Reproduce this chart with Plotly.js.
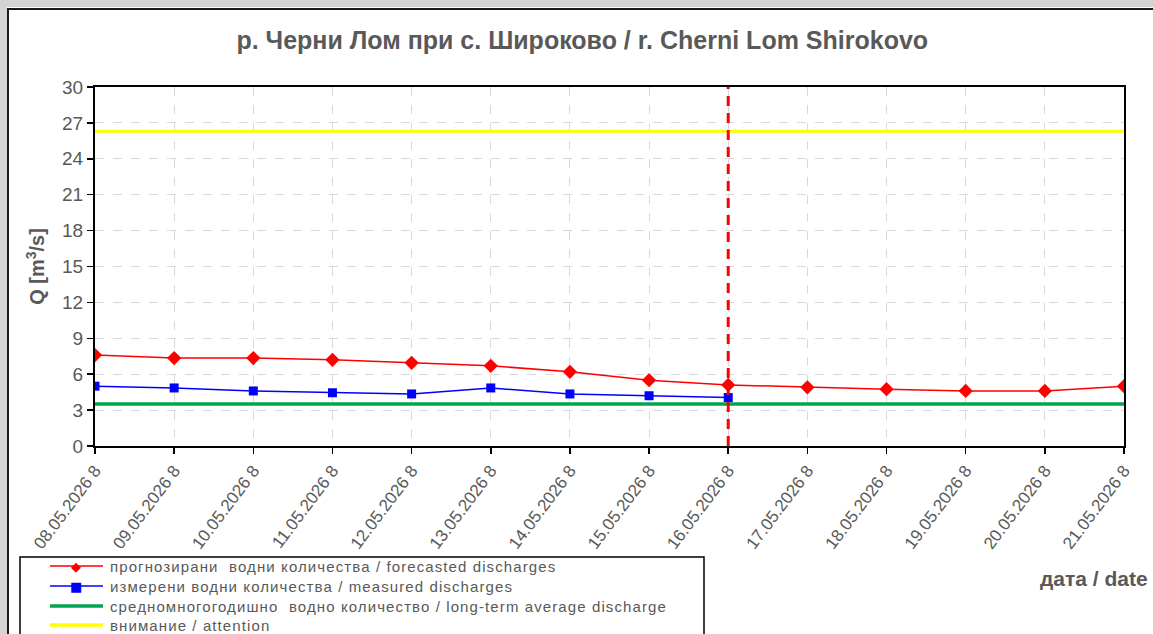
<!DOCTYPE html>
<html>
<head>
<meta charset="utf-8">
<script src="https://cdn.plot.ly/plotly-3.0.1.min.js"></script>
<style>html,body{margin:0;padding:0;background:#fff;overflow:hidden;}#chart{width:1153px;height:634px;}</style>
</head>
<body>
<div id="chart"></div>
<script>
const dates = ['08.05.2026 8','09.05.2026 8','10.05.2026 8','11.05.2026 8','12.05.2026 8','13.05.2026 8','14.05.2026 8','15.05.2026 8','16.05.2026 8','17.05.2026 8','18.05.2026 8','19.05.2026 8','20.05.2026 8','21.05.2026 8'];
const forecasted = [7.6, 7.35, 7.35, 7.2, 6.95, 6.7, 6.2, 5.5, 5.1, 4.9, 4.75, 4.6, 4.6, 5.0];
const measuredDates = dates.slice(0, 9);
const measured = [5.0, 4.85, 4.6, 4.45, 4.35, 4.85, 4.35, 4.2, 4.05];
const longTermAverage = 3.5;
const attentionLevel = 26.3;
const forecastStart = '16.05.2026 8';
const yRange = [0, 30];

const names = [
  'прогнозирани  водни количества / forecasted discharges',
  'измерени водни количества / measured discharges',
  'средномногогодишно  водно количество / long-term average discharge',
  'внимание / attention'
];
const colors = ['#ff0000', '#0000ff', '#00a550', '#ffff00'];

const gray = '#595959';
const font = 'Liberation Sans, Arial, sans-serif';

const data = [
  {x: dates, y: dates.map(() => longTermAverage), name: names[2], mode: 'lines',
   line: {color: colors[2], width: 3.5}},
  {x: dates, y: dates.map(() => attentionLevel), name: names[3], mode: 'lines',
   line: {color: colors[3], width: 3}},
  {x: dates, y: forecasted, name: names[0], mode: 'lines+markers',
   line: {color: colors[0], width: 1.5}, marker: {symbol: 'diamond', size: 11, color: colors[0]}},
  {x: measuredDates, y: measured, name: names[1], mode: 'lines+markers',
   line: {color: colors[1], width: 1.5}, marker: {symbol: 'square', size: 9, color: colors[1]}},
  {x: [forecastStart, forecastStart], y: yRange, name: 'forecast start', mode: 'lines',
   line: {color: '#ff0000', width: 3, dash: '10px,7px'}, hoverinfo: 'skip'}
];

const W = 1029, H = 359, L = 95, T = 87;
const px = v => (v - L) / W;
const py = v => (T + H - v) / H;

// legend drawn as chart chrome (lines + glyphs + real text)
const legRows = [566, 586, 606, 625];
const legShapes = [], legAnn = [];
const glyphs = ['◆', '■', '', ''];
const glyphSize = [13, 13, 0, 0];
const legWidths = [1.5, 1.5, 3.5, 3.5];
names.forEach((n, i) => {
  legShapes.push({type: 'line', xref: 'paper', yref: 'paper', x0: px(50), x1: px(103),
    y0: py(legRows[i]), y1: py(legRows[i]), line: {color: colors[i], width: legWidths[i]}});
  if (glyphs[i]) legAnn.push({text: glyphs[i], xref: 'paper', yref: 'paper', x: px(76), y: py(legRows[i]),
    xanchor: 'center', yanchor: 'middle', showarrow: false,
    font: {size: glyphSize[i], color: colors[i], family: 'DejaVu Sans'}});
  legAnn.push({text: '<span style="letter-spacing:1.1px">' + n + '</span>', xref: 'paper', yref: 'paper',
    x: px(108), y: py(legRows[i]), xanchor: 'left', yanchor: 'middle', showarrow: false,
    font: {size: 15, color: gray, family: font}});
});

const layout = {
  width: 1153, height: 634,
  margin: {l: 95, r: 29, t: 87, b: 188},
  paper_bgcolor: '#ffffff', plot_bgcolor: '#ffffff',
  font: {family: font, color: gray},
  showlegend: false,
  title: {text: 'р. Черни Лом при с. Широково / r. Cherni Lom Shirokovo',
    font: {family: font, size: 25, color: gray, weight: 'bold'},
    x: 0.505, xanchor: 'center', y: 0.937, yanchor: 'middle'},
  xaxis: {type: 'category', range: [0, dates.length - 1], showgrid: true, automargin: false,
    gridcolor: '#d9d9d9', griddash: 'dash', gridwidth: 1,
    showline: true, linecolor: '#000', linewidth: 2, mirror: true,
    ticks: 'outside', ticklen: 6, tickcolor: '#000', tickwidth: 1.5,
    tickangle: -53, tickfont: {size: 17, color: gray, family: font}, fixedrange: true},
  yaxis: {range: yRange, dtick: 3, tick0: 0, showgrid: true, automargin: false,
    gridcolor: '#d9d9d9', griddash: 'dash', gridwidth: 1,
    showline: true, linecolor: '#000', linewidth: 2, mirror: true,
    ticks: 'outside', ticklen: 6, tickcolor: '#000', tickwidth: 1.5,
    tickfont: {size: 19, color: gray, family: font}, zeroline: false,
    title: {text: 'Q [m<sup>3</sup>/s]', font: {size: 20, color: gray, family: font, weight: 'bold'}, standoff: 12}},
  shapes: [
    {type: 'rect', xref: 'paper', yref: 'paper', x0: px(3.5), x1: px(1160), y0: py(3.5), y1: py(700),
     line: {color: '#d4d4d4', width: 7}, layer: 'below'},
    {type: 'rect', xref: 'paper', yref: 'paper', x0: px(8), x1: px(1170), y0: py(9), y1: py(700),
     line: {color: '#1a1a1a', width: 2}, layer: 'below'},
    {type: 'rect', xref: 'paper', yref: 'paper', x0: px(20), x1: px(704), y0: py(557), y1: py(700),
     line: {color: '#000', width: 1.5}, fillcolor: '#ffffff', layer: 'above'}
  ].concat(legShapes),
  annotations: [
    {text: 'дата / date', xref: 'paper', yref: 'paper', x: px(1150), y: py(578),
     xanchor: 'right', yanchor: 'middle', showarrow: false,
     font: {size: 21, color: gray, family: font, weight: 'bold'}}
  ].concat(legAnn)
};

Plotly.newPlot('chart', data, layout, {displayModeBar: false, staticPlot: true});
</script>
</body>
</html>
